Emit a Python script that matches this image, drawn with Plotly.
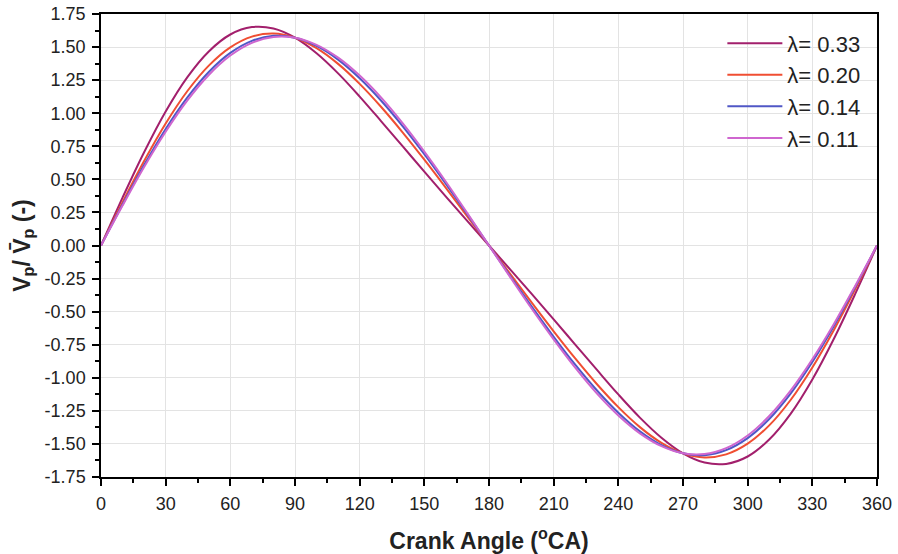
import plotly.graph_objects as go

crank_angle = list(range(0, 361, 10))

v_l033 = [0.000, 0.362, 0.705, 1.013, 1.271, 1.467, 1.595, 1.651, 1.641, 1.571,
          1.453, 1.301, 1.126, 0.939, 0.749, 0.558, 0.370, 0.184, 0.000,
          -0.184, -0.370, -0.558, -0.749, -0.939, -1.126, -1.301, -1.453, -1.571,
          -1.641, -1.651, -1.595, -1.467, -1.271, -1.013, -0.705, -0.362, 0.000]
v_l020 = [0.000, 0.327, 0.638, 0.922, 1.166, 1.360, 1.498, 1.579, 1.602, 1.571,
          1.492, 1.373, 1.222, 1.047, 0.854, 0.649, 0.436, 0.219, 0.000,
          -0.219, -0.436, -0.649, -0.854, -1.047, -1.222, -1.373, -1.492, -1.571,
          -1.602, -1.579, -1.498, -1.360, -1.166, -0.922, -0.638, -0.327, 0.000]
v_l014 = [0.000, 0.310, 0.608, 0.881, 1.118, 1.312, 1.456, 1.547, 1.585, 1.571,
          1.509, 1.405, 1.264, 1.094, 0.901, 0.690, 0.466, 0.235, 0.000,
          -0.235, -0.466, -0.690, -0.901, -1.094, -1.264, -1.405, -1.509, -1.571,
          -1.585, -1.547, -1.456, -1.312, -1.118, -0.881, -0.608, -0.310, 0.000]
v_l011 = [0.000, 0.302, 0.593, 0.860, 1.095, 1.289, 1.436, 1.532, 1.577, 1.571,
          1.517, 1.420, 1.285, 1.118, 0.924, 0.710, 0.482, 0.243, 0.000,
          -0.243, -0.482, -0.710, -0.924, -1.118, -1.285, -1.420, -1.517, -1.571,
          -1.577, -1.532, -1.436, -1.289, -1.095, -0.860, -0.593, -0.302, 0.000]

series_names = ["λ= 0.33", "λ= 0.20", "λ= 0.14", "λ= 0.11"]
series_values = [v_l033, v_l020, v_l014, v_l011]
series_colors = ["#A21F6C", "#F04E32", "#5057C6", "#CF66CF"]

x_ticks = list(range(0, 361, 30))
y_ticks = [-1.75, -1.5, -1.25, -1.0, -0.75, -0.5, -0.25, 0.0, 0.25, 0.5, 0.75, 1.0, 1.25, 1.5, 1.75]
y_ticktext = [f"{v:.2f}" for v in y_ticks]

FONT = "Liberation Sans, Arial"

fig = go.Figure()
for i, (name, vals, col) in enumerate(zip(series_names, series_values, series_colors)):
    fig.add_trace(go.Scatter(x=crank_angle, y=vals, mode="lines", name=name, legendgroup=f"g{i}",
                             line=dict(color=col, width=2, shape="spline", smoothing=1.0)))

axis_common = dict(showline=True, linecolor="black", linewidth=1.5, mirror=True,
                   ticks="outside", ticklen=7, tickwidth=1.5, tickcolor="black",
                   showgrid=True, gridcolor="#E3E3E3", gridwidth=1, zeroline=False,
                   automargin=False,
                   tickfont=dict(family=FONT, size=18, color="#222"))

fig.update_xaxes(range=[0, 360], tickvals=x_ticks,
                 minor=dict(ticks="outside", ticklen=4, tickwidth=1.5, tickcolor="black", dtick=15, showgrid=False),
                 ticklabelstandoff=3,
                 title=dict(text="<b>Crank Angle (<sup>o</sup>CA)</b>", standoff=20,
                            font=dict(family=FONT, size=23, color="#222")),
                 **axis_common)
fig.update_yaxes(range=[-1.75, 1.75], tickvals=y_ticks, ticktext=y_ticktext,
                 minor=dict(ticks="outside", ticklen=4, tickwidth=1.5, tickcolor="black", dtick=0.125, tick0=0, showgrid=False),
                 ticklabelstandoff=3,
                 title=dict(text="<b>V<sub>p</sub>/ V\u0304<sub>p</sub> (-)</b>", standoff=8,
                            font=dict(family=FONT, size=23, color="#222")),
                 **axis_common)

fig.update_layout(width=898, height=554, margin=dict(l=101, r=21, t=14, b=77),
                  paper_bgcolor="white", plot_bgcolor="white",
                  font=dict(family=FONT, color="#222"),
                  legend=dict(x=0.985, y=0.982, xanchor="right", yanchor="top",
                              bgcolor="rgba(255,255,255,0)", borderwidth=0,
                              font=dict(family=FONT, size=22, color="#222"), tracegroupgap=0,
                              itemwidth=55),
                  showlegend=True)

fig.write_html("out.html")
